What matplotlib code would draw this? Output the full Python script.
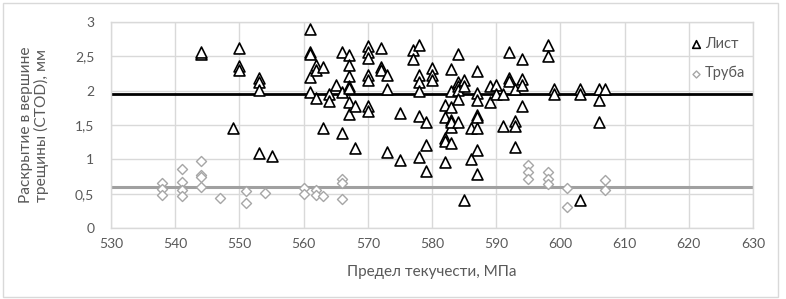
import matplotlib
matplotlib.use("Agg")
import matplotlib.pyplot as plt
from matplotlib.patches import Rectangle

plt.rcParams['font.family'] = ['Lato', 'DejaVu Sans']

# --- data ---
list_x = [544, 544, 549, 550, 550, 550, 553, 553, 553, 553, 555,
          561, 561, 561, 561, 561, 562, 562, 562, 563, 563, 564, 564, 565,
          566, 566, 566, 567, 567, 567, 567, 567, 567, 567, 568, 568,
          570, 570, 570, 570, 570, 570, 570, 572, 572, 572, 573, 573, 573,
          575, 575, 577, 577, 578, 578, 578, 578, 578, 578, 579, 579, 579,
          580, 580, 580, 582, 582, 582, 582, 582,
          583, 583, 583, 583, 583, 583, 583,
          584, 584, 584, 584, 584, 584, 585, 585, 585, 586, 586,
          587, 587, 587, 587, 587, 587, 587, 587, 589, 589, 590, 590,
          591, 591, 592, 592, 592, 593, 593, 593, 593, 594, 594, 594, 594,
          598, 598, 599, 599, 603, 603, 603, 606, 606, 606, 607]
list_y = [2.53, 2.57, 1.46, 2.62, 2.36, 2.30, 2.19, 2.13, 2.01, 1.09, 1.05,
          2.90, 2.56, 2.53, 2.20, 1.98, 2.38, 2.30, 1.90, 2.34, 1.45, 1.95, 1.85, 2.08,
          2.56, 1.98, 1.39, 2.52, 2.37, 2.21, 2.07, 2.04, 1.83, 1.66, 1.78, 1.16,
          2.65, 2.56, 2.48, 2.23, 2.16, 1.78, 1.70, 2.62, 2.35, 2.30, 2.23, 2.03, 1.11,
          1.68, 0.99, 2.59, 2.46, 2.67, 2.23, 2.12, 1.99, 1.63, 1.04, 1.54, 1.21, 0.83,
          2.33, 2.23, 2.16, 1.79, 1.62, 1.31, 1.26, 0.96,
          2.31, 2.00, 1.76, 1.57, 1.47, 1.24, 1.55,
          2.53, 2.13, 2.07, 2.01, 1.88, 1.55, 2.16, 2.07, 0.41, 1.46, 1.01,
          2.29, 1.97, 1.86, 1.64, 1.62, 1.45, 1.14, 0.79, 2.07, 1.84, 2.08, 1.95,
          1.95, 1.49, 2.57, 2.18, 2.14, 2.02, 1.56, 1.49, 1.18, 2.46, 2.17, 2.08, 1.77,
          2.66, 2.50, 2.03, 1.95, 2.03, 1.95, 0.41, 2.03, 1.87, 1.55, 2.02]

pipe_x = [538, 538, 538, 541, 541, 541, 541, 544, 544, 544, 544, 547,
          551, 551, 554, 560, 560, 562, 562, 563, 566, 566, 566,
          595, 595, 595, 598, 598, 598, 601, 601, 607, 607]
pipe_y = [0.65, 0.57, 0.48, 0.86, 0.67, 0.55, 0.47, 0.97, 0.77, 0.74, 0.60, 0.43,
          0.54, 0.36, 0.51, 0.58, 0.50, 0.55, 0.48, 0.46, 0.72, 0.65, 0.42,
          0.92, 0.82, 0.72, 0.81, 0.71, 0.64, 0.58, 0.31, 0.70, 0.56]

list_mean = 1.95
pipe_mean = 0.60

series_names = ["Лист", "Труба"]
x_ticks = [530, 540, 550, 560, 570, 580, 590, 600, 610, 620, 630]
y_ticks = [0, 0.5, 1, 1.5, 2, 2.5, 3]
y_tick_labels = ["0", "0,5", "1", "1,5", "2", "2,5", "3"]
x_label = "Предел текучести, МПа"
y_label = "Раскрытие в вершине\nтрещины (CTOD), мм"

# --- figure ---
W, H = 786, 299
fig = plt.figure(figsize=(W / 100, H / 100), dpi=100)
fig.patches.append(Rectangle((3 / W, 2 / H), 775 / W, 294 / H, transform=fig.transFigure,
                             fill=False, edgecolor='#d9d9d9', linewidth=1))

ax = fig.add_axes([111 / W, 1 - 228 / H, 642 / W, 206 / H])
ax.set_xlim(530, 630)
ax.set_ylim(0, 3)
ax.set_xticks(x_ticks)
ax.set_yticks(y_ticks)
ax.set_yticklabels(y_tick_labels)
ax.grid(True, color='#d9d9d9', linewidth=1)
ax.set_axisbelow(True)
for s in ax.spines.values():
    s.set_color('#d9d9d9')
    s.set_linewidth(1)
ax.tick_params(length=0, labelsize=10, labelcolor='#595959')
ax.tick_params(axis='y', pad=12)
ax.tick_params(axis='x', pad=7)

ax.axhline(list_mean, color='black', linewidth=2, zorder=2)
ax.axhline(pipe_mean, color='#a0a0a0', linewidth=2.2, zorder=2)

ax.scatter(list_x, list_y, marker='^', s=62, facecolors='white', edgecolors='black',
           linewidths=1.2, zorder=4, label=series_names[0])
ax.scatter(pipe_x, pipe_y, marker='D', s=26, facecolors='white', edgecolors='#a6a6a6',
           linewidths=1.0, zorder=3, label=series_names[1])

xl = ax.set_xlabel(x_label, fontsize=11, color='#595959')
xl.set_va('center')
ax.xaxis.set_label_coords(0.5, (228 - 272) / 206)
yl = ax.set_ylabel(y_label, fontsize=11.2, color='#595959', linespacing=1.15)
yl.set_va('center')
ax.yaxis.set_label_coords((34 - 111) / 642, 0.5)

leg = ax.legend(loc='upper left', bbox_to_anchor=(683 / W, 1 - 31 / H),
                bbox_transform=fig.transFigure, frameon=False, fontsize=10.5,
                handletextpad=0.1, handlelength=1.0, labelspacing=1.05,
                markerscale=0.7, borderaxespad=0)
for t in leg.get_texts():
    t.set_color('#595959')

fig.savefig('out.png', dpi=100)
